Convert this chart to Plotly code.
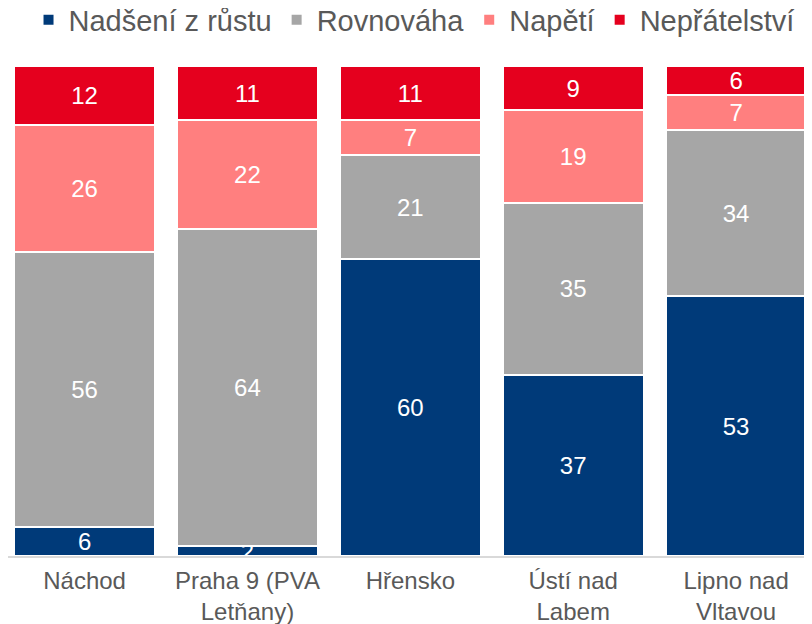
import plotly.graph_objects as go

categories = ["Náchod", "Praha 9 (PVA<br>Letňany)", "Hřensko", "Ústí nad<br>Labem", "Lipno nad<br>Vltavou"]
series_names = ["Nadšení z růstu", "Rovnováha", "Napětí", "Nepřátelství"]
nadseni = [6, 2, 60, 37, 53]
rovnovaha = [56, 64, 21, 35, 34]
napeti = [26, 22, 7, 19, 7]
nepratelstvi = [12, 11, 11, 9, 6]
colors = ["#003A79", "#A6A6A6", "#FF7F7F", "#E5001E"]

fig = go.Figure()
for name, vals, col in zip(series_names, [nadseni, rovnovaha, napeti, nepratelstvi], colors):
    fig.add_trace(go.Bar(
        name=name, x=categories, y=vals,
        text=[str(v) for v in vals],
        textposition="inside", insidetextanchor="middle",
        constraintext="none", textangle=0,
        textfont=dict(color="white", size=24, family="Liberation Sans, Arial"),
        marker=dict(color=col, line=dict(color="white", width=2)),
        hoverinfo="skip",
    ))

# page body has an 8px default margin; figure sized to fit the window
W, H = 804, 616
fig.update_layout(
    barmode="stack", barnorm="percent", bargap=0.135,
    width=W, height=H,
    margin=dict(l=0, r=0, t=58, b=68, autoexpand=False),
    paper_bgcolor="white", plot_bgcolor="white",
    font=dict(family="Liberation Sans, Arial", color="#595959"),
    legend=dict(orientation="h", x=0.505, xanchor="center", xref="container",
                y=1 - 12 / H, yanchor="middle", yref="container",
                font=dict(size=29, color="#595959"), traceorder="normal",
                itemwidth=30, tracegroupgap=0),
    xaxis=dict(showline=True, linecolor="#D9D9D9", linewidth=2, ticks="",
               range=[-0.470, 4.466],
               automargin=False, ticklabelstandoff=2,
               tickfont=dict(size=24, color="#595959")),
    yaxis=dict(visible=False, range=[0, 100], showgrid=False, automargin=False),
)
fig.write_html("out.html")
